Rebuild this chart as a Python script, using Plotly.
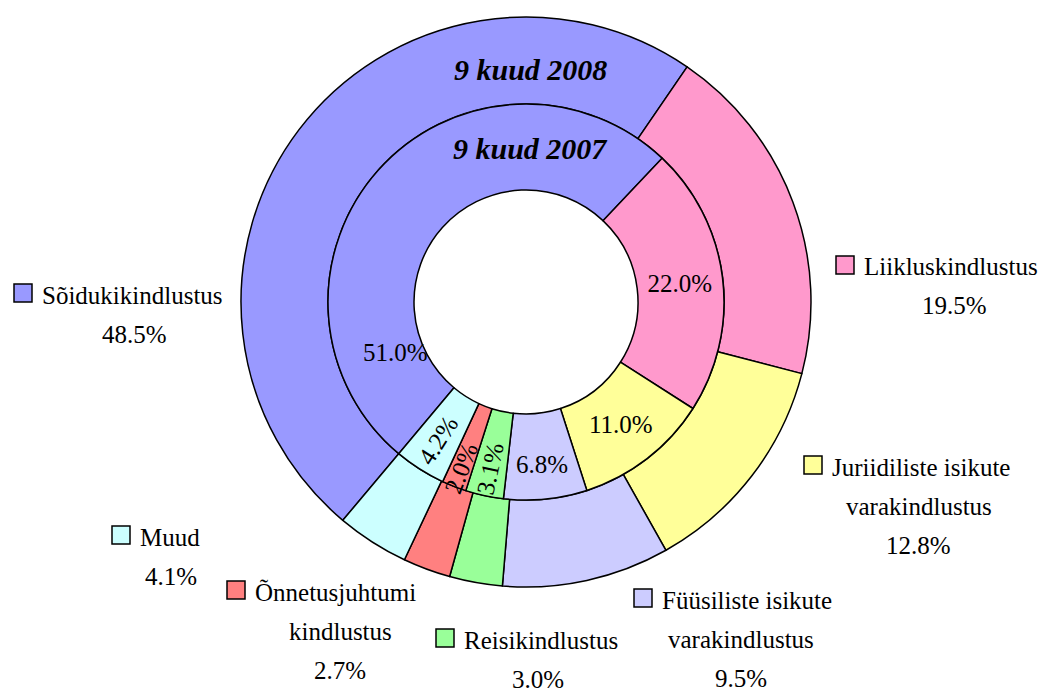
import plotly.graph_objects as go

# ---- data ----
categories = ["Sõidukikindlustus", "Liikluskindlustus", "Juriidiliste isikute varakindlustus",
              "Füüsiliste isikute varakindlustus", "Reisikindlustus",
              "Õnnetusjuhtumi kindlustus", "Muud"]
label_lines = [["Sõidukikindlustus"], ["Liikluskindlustus"], ["Juriidiliste isikute", "varakindlustus"],
               ["Füüsiliste isikute", "varakindlustus"], ["Reisikindlustus"],
               ["Õnnetusjuhtumi", "kindlustus"], ["Muud"]]
share_2008 = [48.5, 19.5, 12.8, 9.5, 3.0, 2.7, 4.1]
share_2007 = [51.0, 22.0, 11.0, 6.8, 3.1, 2.0, 4.2]
ring_titles = ["9 kuud 2008", "9 kuud 2007"]
colors = ["#9999FF", "#FF99CC", "#FFFF99", "#CCCCFF", "#99FF99", "#FF8080", "#CCFFFF"]

# ---- layout helpers (pixels) ----
W, H = 1045, 693
FONT = "Liberation Serif"
FS = 25
def px(x): return x / W
def py(y): return 1 - y / H

cx, cy = 526, 302
R_out, R_in, R_hole = 285, 198, 112
ROT = 220

def dom(r):
    return dict(x=[px(cx - r), px(cx + r)], y=[py(cy + r), py(cy - r)])

fmt = lambda v: f"{v:.1f}%"
horiz_idx = {1, 2, 3}
radial_idx = {4, 5, 6}

fig = go.Figure()
fig.add_trace(go.Pie(values=share_2008, labels=categories, sort=False, direction="clockwise",
                     rotation=ROT, hole=R_in / R_out, domain=dom(R_out),
                     marker=dict(colors=colors, line=dict(color="black", width=1.5)),
                     textinfo="none", hoverinfo="label+value", showlegend=False))
fig.add_trace(go.Pie(values=share_2007, labels=categories, sort=False, direction="clockwise",
                     rotation=ROT, hole=R_hole / R_in, domain=dom(R_in),
                     marker=dict(colors=colors, line=dict(color="black", width=1.5)),
                     text=[fmt(v) if i in horiz_idx else "" for i, v in enumerate(share_2007)],
                     textinfo="text", textposition="inside", insidetextorientation="horizontal",
                     textfont=dict(family=FONT, size=FS, color="black"),
                     hoverinfo="label+value", showlegend=False))
fig.add_trace(go.Pie(values=share_2007, labels=categories, sort=False, direction="clockwise",
                     rotation=ROT, hole=R_hole / R_in, domain=dom(R_in),
                     marker=dict(colors=["rgba(0,0,0,0)"] * 7, line=dict(width=0)),
                     text=[fmt(v) if i in radial_idx else "" for i, v in enumerate(share_2007)],
                     textinfo="text", textposition="inside", insidetextorientation="radial",
                     textfont=dict(family=FONT, size=FS, color="black"),
                     hoverinfo="skip", showlegend=False))

annotations = []
shapes = []
# ring titles
for t, y in zip(ring_titles, [70, 149]):
    annotations.append(dict(x=px(530), y=py(y), xref="paper", yref="paper", showarrow=False,
                            text=f"<b><i>{t}</i></b>", font=dict(family=FONT, size=30, color="black"),
                            xanchor="center", yanchor="middle"))
# moved inner label for the first slice
annotations.append(dict(x=px(395), y=py(352), xref="paper", yref="paper", showarrow=False,
                        text=fmt(share_2007[0]), font=dict(family=FONT, size=FS, color="black"),
                        xanchor="center", yanchor="middle"))

# outer-ring data labels with legend keys: (text left, first line y, centre x of other lines)
label_pos = [(40, 295, 134), (862, 267, 954), (830, 467, 918.5), (660, 600, 741),
             (462, 640, 538), (253, 592, 340), (138, 537, 171)]
LS = 39
SQ = 18
for i, (lines, (tl, y0, lcx)) in enumerate(zip(label_lines, label_pos)):
    all_lines = lines + [fmt(share_2008[i])]
    for j, ln in enumerate(all_lines):
        if j == 0:
            annotations.append(dict(x=px(tl), y=py(y0), xref="paper", yref="paper", showarrow=False,
                                    text=ln, font=dict(family=FONT, size=FS, color="black"),
                                    xanchor="left", yanchor="middle"))
        else:
            annotations.append(dict(x=px(lcx), y=py(y0 + j * LS), xref="paper", yref="paper",
                                    showarrow=False, text=ln,
                                    font=dict(family=FONT, size=FS, color="black"),
                                    xanchor="center", yanchor="middle"))
    sx0 = tl - 8 - SQ
    sy = y0 - 2
    shapes.append(dict(type="rect", xref="paper", yref="paper",
                       x0=px(sx0), x1=px(sx0 + SQ), y0=py(sy + SQ / 2), y1=py(sy - SQ / 2),
                       fillcolor=colors[i], line=dict(color="black", width=1.5)))

fig.update_layout(width=W, height=H, margin=dict(l=0, r=0, t=0, b=0),
                  paper_bgcolor="white", plot_bgcolor="white",
                  uniformtext=dict(minsize=FS, mode="show"),
                  annotations=annotations, shapes=shapes)
fig.write_html("out.html", config={"displayModeBar": False},
               post_script="document.body.style.margin='0';document.body.style.overflow='hidden';")
